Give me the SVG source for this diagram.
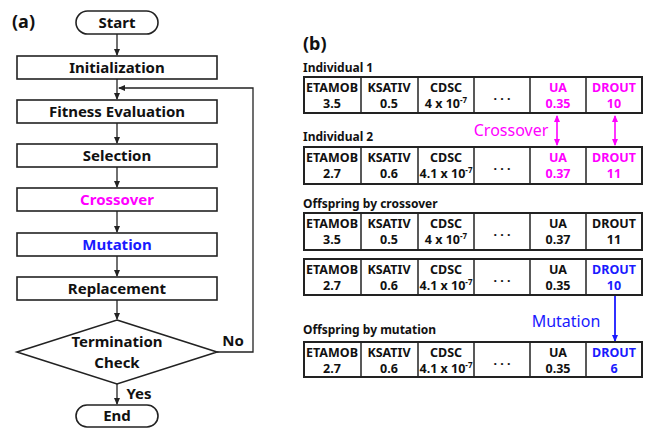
<svg xmlns="http://www.w3.org/2000/svg" width="653" height="428" viewBox="0 0 653 428">
<style>
text{font-family:"Noto Sans","Open Sans","DejaVu Sans",sans-serif;}
.box{fill:#fff;stroke:#222;stroke-width:1.6;}
.ft{font-size:15px;font-weight:bold;text-anchor:middle;fill:#111;}
.ln{stroke:#222;stroke-width:1.3;fill:none;}
.tb{fill:#fff;stroke:#222;stroke-width:2;}
.dv{stroke:#222;stroke-width:1.5;}
.ct{font-size:12.5px;font-weight:bold;text-anchor:middle;fill:#111;}
.lbl{font-size:12px;font-weight:bold;fill:#111;}
.mg{fill:#ff00ff;}
.bl{fill:#1a1aff;}
</style>
<defs>
<marker id="ah" markerWidth="8" markerHeight="8" refX="6" refY="4" orient="auto" markerUnits="userSpaceOnUse"><path d="M0,1 L7,4 L0,7 Z" fill="#222"/></marker>
<marker id="am" markerWidth="8" markerHeight="8" refX="6" refY="4" orient="auto-start-reverse" markerUnits="userSpaceOnUse"><path d="M0,1 L7,4 L0,7 Z" fill="#ff00ff"/></marker>
<marker id="ab" markerWidth="8" markerHeight="8" refX="6" refY="4" orient="auto" markerUnits="userSpaceOnUse"><path d="M0,1 L7,4 L0,7 Z" fill="#1a1aff"/></marker>
</defs>

<text x="12" y="28" font-size="18" font-weight="bold" fill="#111">(a)</text>
<text x="303" y="50" font-size="18" font-weight="bold" fill="#111">(b)</text>

<g id="connectors">
<line class="ln" x1="117" y1="34" x2="117" y2="55" marker-end="url(#ah)"/>
<line class="ln" x1="117" y1="79" x2="117" y2="99" marker-end="url(#ah)"/>
<line class="ln" x1="117" y1="123" x2="117" y2="143" marker-end="url(#ah)"/>
<line class="ln" x1="117" y1="167" x2="117" y2="187" marker-end="url(#ah)"/>
<line class="ln" x1="117" y1="211" x2="117" y2="232" marker-end="url(#ah)"/>
<line class="ln" x1="117" y1="256" x2="117" y2="276" marker-end="url(#ah)"/>
<line class="ln" x1="117" y1="300" x2="117" y2="319" marker-end="url(#ah)"/>
<line class="ln" x1="117" y1="384" x2="117" y2="404" marker-end="url(#ah)"/>
<polyline class="ln" points="217,352 253,352 253,88 119,88" marker-end="url(#ah)"/>
<line x1="557" y1="116" x2="557" y2="145" stroke="#ff00ff" stroke-width="1.6" marker-start="url(#am)" marker-end="url(#am)"/>
<line x1="615" y1="116" x2="615" y2="145" stroke="#ff00ff" stroke-width="1.6" marker-start="url(#am)" marker-end="url(#am)"/>
<line x1="615" y1="295" x2="615" y2="341" stroke="#1a1aff" stroke-width="1.8" marker-end="url(#ab)"/>
</g>

<g id="start"><rect class="box" x="76" y="11" width="82" height="23" rx="11.5"/><text class="ft" x="117" y="28">Start</text></g>
<g id="init"><rect class="box" x="17" y="56" width="200" height="23"/><text class="ft" x="117" y="73">Initialization</text></g>
<g id="fitness"><rect class="box" x="17" y="100" width="200" height="23"/><text class="ft" x="117" y="117">Fitness Evaluation</text></g>
<g id="selection"><rect class="box" x="17" y="144" width="200" height="23"/><text class="ft" x="117" y="161">Selection</text></g>
<g id="crossover"><rect class="box" x="17" y="188" width="200" height="23"/><text class="ft mg" x="117" y="205">Crossover</text></g>
<g id="mutation"><rect class="box" x="17" y="233" width="200" height="23"/><text class="ft bl" x="117" y="250">Mutation</text></g>
<g id="replacement"><rect class="box" x="17" y="277" width="200" height="23"/><text class="ft" x="117" y="294">Replacement</text></g>
<g id="termination"><polygon class="box" points="117,320 217,352 117,384 17,352"/><text class="ft" x="117" y="347">Termination</text><text class="ft" x="117" y="368">Check</text></g>
<g id="end"><rect class="box" x="76" y="405" width="82" height="22" rx="11"/><text class="ft" x="117" y="421">End</text></g>
<text class="ft" x="139" y="399">Yes</text>
<text class="ft" x="233" y="346">No</text>

<text class="lbl" x="303" y="72">Individual 1</text>
<text class="lbl" x="303" y="141">Individual 2</text>
<text class="lbl" x="303" y="208">Offspring by crossover</text>
<text class="lbl" x="303" y="334">Offspring by mutation</text>
<text x="511" y="136" font-size="16" text-anchor="middle" class="mg">Crossover</text>
<text x="566" y="327" font-size="16" text-anchor="middle" class="bl">Mutation</text>

<g id="ind1">
<rect class="tb" x="304" y="77" width="338" height="36"/>
<line class="dv" x1="361" y1="77" x2="361" y2="113"/><line class="dv" x1="418" y1="77" x2="418" y2="113"/><line class="dv" x1="474" y1="77" x2="474" y2="113"/><line class="dv" x1="530" y1="77" x2="530" y2="113"/><line class="dv" x1="586" y1="77" x2="586" y2="113"/>
<text class="ct" x="332" y="92">ETAMOB</text><text class="ct" x="332" y="108">3.5</text>
<text class="ct" x="389" y="92">KSATIV</text><text class="ct" x="389" y="108">0.5</text>
<text class="ct" x="446" y="92">CDSC</text><text class="ct" x="446" y="108">4 x 10<tspan font-size="8" dy="-5">-7</tspan></text>
<text class="ct" x="502" y="100" font-weight="normal">. . .</text>
<text class="ct mg" x="558" y="92">UA</text><text class="ct mg" x="558" y="108">0.35</text>
<text class="ct mg" x="614" y="92">DROUT</text><text class="ct mg" x="614" y="108">10</text>
</g>

<g id="ind2">
<rect class="tb" x="304" y="147" width="338" height="37"/>
<line class="dv" x1="361" y1="147" x2="361" y2="184"/><line class="dv" x1="418" y1="147" x2="418" y2="184"/><line class="dv" x1="474" y1="147" x2="474" y2="184"/><line class="dv" x1="530" y1="147" x2="530" y2="184"/><line class="dv" x1="586" y1="147" x2="586" y2="184"/>
<text class="ct" x="332" y="162">ETAMOB</text><text class="ct" x="332" y="178">2.7</text>
<text class="ct" x="389" y="162">KSATIV</text><text class="ct" x="389" y="178">0.6</text>
<text class="ct" x="446" y="162">CDSC</text><text class="ct" x="446" y="178">4.1 x 10<tspan font-size="8" dy="-5">-7</tspan></text>
<text class="ct" x="502" y="170" font-weight="normal">. . .</text>
<text class="ct mg" x="558" y="162">UA</text><text class="ct mg" x="558" y="178">0.37</text>
<text class="ct mg" x="614" y="162">DROUT</text><text class="ct mg" x="614" y="178">11</text>
</g>

<g id="off1">
<rect class="tb" x="304" y="213" width="338" height="37"/>
<line class="dv" x1="361" y1="213" x2="361" y2="250"/><line class="dv" x1="418" y1="213" x2="418" y2="250"/><line class="dv" x1="474" y1="213" x2="474" y2="250"/><line class="dv" x1="530" y1="213" x2="530" y2="250"/><line class="dv" x1="586" y1="213" x2="586" y2="250"/>
<text class="ct" x="332" y="228">ETAMOB</text><text class="ct" x="332" y="244">3.5</text>
<text class="ct" x="389" y="228">KSATIV</text><text class="ct" x="389" y="244">0.5</text>
<text class="ct" x="446" y="228">CDSC</text><text class="ct" x="446" y="244">4 x 10<tspan font-size="8" dy="-5">-7</tspan></text>
<text class="ct" x="502" y="236" font-weight="normal">. . .</text>
<text class="ct" x="558" y="228">UA</text><text class="ct" x="558" y="244">0.37</text>
<text class="ct" x="614" y="228">DROUT</text><text class="ct" x="614" y="244">11</text>
</g>

<g id="off2">
<rect class="tb" x="304" y="259" width="338" height="36"/>
<line class="dv" x1="361" y1="259" x2="361" y2="295"/><line class="dv" x1="418" y1="259" x2="418" y2="295"/><line class="dv" x1="474" y1="259" x2="474" y2="295"/><line class="dv" x1="530" y1="259" x2="530" y2="295"/><line class="dv" x1="586" y1="259" x2="586" y2="295"/>
<text class="ct" x="332" y="274">ETAMOB</text><text class="ct" x="332" y="290">2.7</text>
<text class="ct" x="389" y="274">KSATIV</text><text class="ct" x="389" y="290">0.6</text>
<text class="ct" x="446" y="274">CDSC</text><text class="ct" x="446" y="290">4.1 x 10<tspan font-size="8" dy="-5">-7</tspan></text>
<text class="ct" x="502" y="282" font-weight="normal">. . .</text>
<text class="ct" x="558" y="274">UA</text><text class="ct" x="558" y="290">0.35</text>
<text class="ct bl" x="614" y="274">DROUT</text><text class="ct bl" x="614" y="290">10</text>
</g>

<g id="mut">
<rect class="tb" x="304" y="342" width="338" height="35"/>
<line class="dv" x1="361" y1="342" x2="361" y2="377"/><line class="dv" x1="418" y1="342" x2="418" y2="377"/><line class="dv" x1="474" y1="342" x2="474" y2="377"/><line class="dv" x1="530" y1="342" x2="530" y2="377"/><line class="dv" x1="586" y1="342" x2="586" y2="377"/>
<text class="ct" x="332" y="357">ETAMOB</text><text class="ct" x="332" y="373">2.7</text>
<text class="ct" x="389" y="357">KSATIV</text><text class="ct" x="389" y="373">0.6</text>
<text class="ct" x="446" y="357">CDSC</text><text class="ct" x="446" y="373">4.1 x 10<tspan font-size="8" dy="-5">-7</tspan></text>
<text class="ct" x="502" y="365" font-weight="normal">. . .</text>
<text class="ct" x="558" y="357">UA</text><text class="ct" x="558" y="373">0.35</text>
<text class="ct bl" x="614" y="357">DROUT</text><text class="ct bl" x="614" y="373">6</text>
</g>
</svg>
